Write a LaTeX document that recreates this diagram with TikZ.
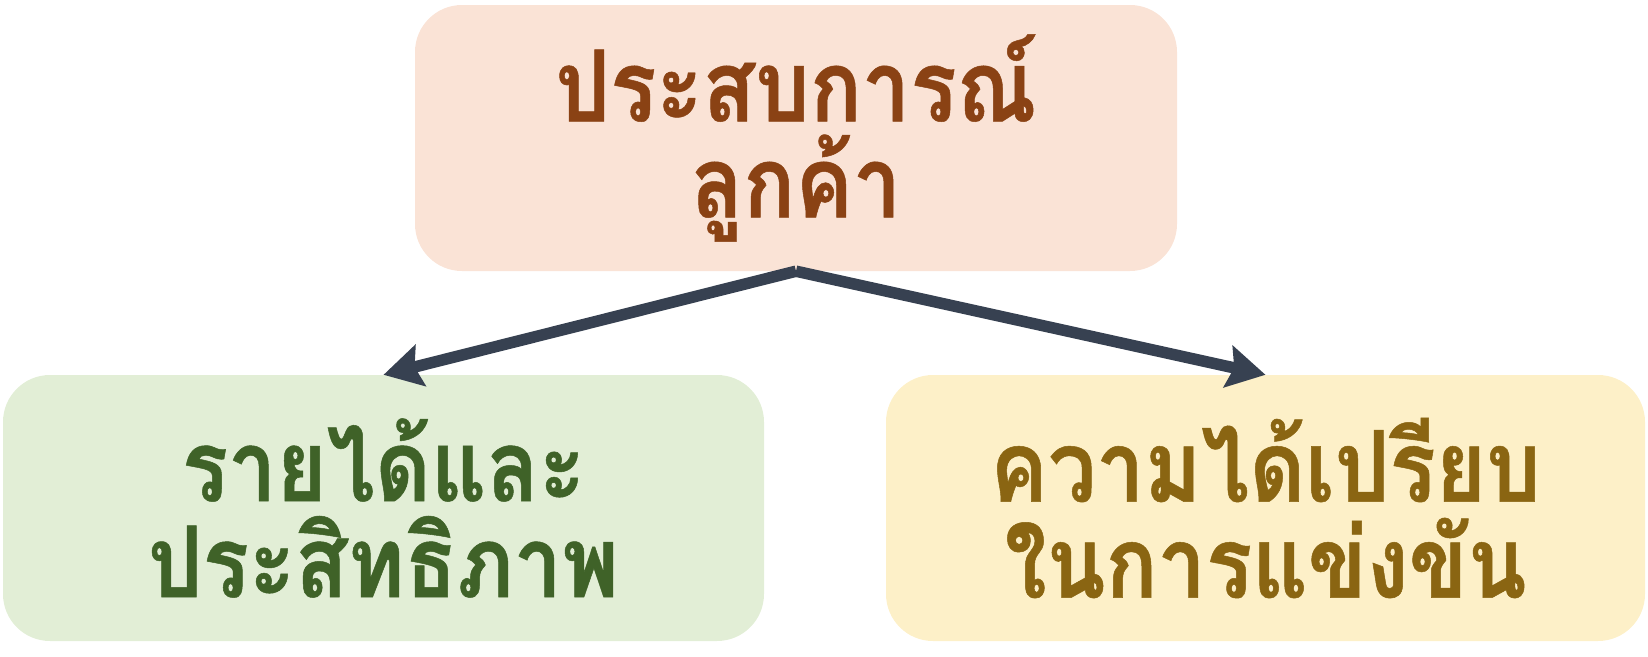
\documentclass[tikz,border=0pt]{standalone}
\usepackage{fontspec}
\newfontfamily\thaifont[Script=Thai,FakeStretch=0.87,BoldFeatures={FakeBold=0.5}]{Loma}
\usetikzlibrary{arrows.meta}
\definecolor{peachfill}{HTML}{FAE3D6}
\definecolor{peachtext}{HTML}{8A4214}
\definecolor{greenfill}{HTML}{E2EED6}
\definecolor{greentext}{HTML}{3F6228}
\definecolor{yellowfill}{HTML}{FDF0C8}
\definecolor{yellowtext}{HTML}{8A6512}
\definecolor{arrowcol}{HTML}{374151}
\begin{document}
\begin{tikzpicture}[x=1pt,y=-1pt,
  box/.style={rectangle, rounded corners=47pt, draw=none, align=center,
    inner sep=0pt, minimum height=266pt,
    font=\thaifont\bfseries\fontsize{99}{96}\selectfont},
  conn/.style={draw=arrowcol, line width=11.5pt,
    -{Stealth[length=38pt,width=42pt,inset=6pt]}}
]
\useasboundingbox (0,0) rectangle (1648,656);
\node[box, fill=peachfill, text=peachtext, minimum width=762pt] (top) at (796,138) {ประสบการณ์\\ลูกค้า};
\node[box, fill=greenfill, text=greentext, minimum width=761pt] (left) at (383.5,508) {รายได้และ\\ประสิทธิภาพ};
\node[box, fill=yellowfill, text=yellowtext, minimum width=759pt] (right) at (1265.5,508) {ความได้เปรียบ\\ในการแข่งขัน};
\draw[conn] (top.south) -- (left.north);
\draw[conn] (top.south) -- (right.north);
\end{tikzpicture}
\end{document}
